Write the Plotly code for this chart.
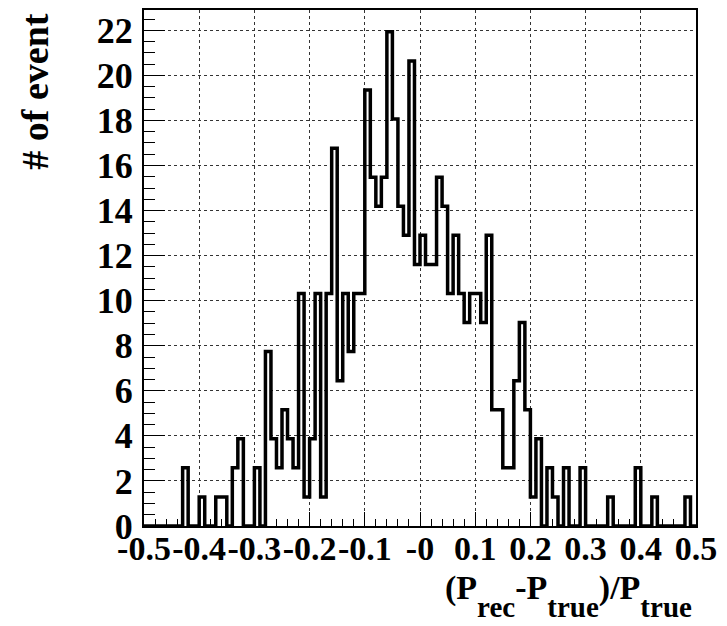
import plotly.graph_objects as go

# ---- data ----
bin_low = -0.5
bin_width = 0.01
event_counts = [
    0, 0, 0, 0, 0, 0, 0, 2.58, 0, 0,            # -0.50 .. -0.41
    1.29, 0, 0, 1.29, 1.29, 0, 2.58, 3.87, 0, 0,  # -0.40 .. -0.31
    2.58, 0, 7.74, 3.87, 2.58, 5.16, 3.87, 2.58, 10.32, 1.29,  # -0.30 .. -0.21
    3.87, 10.32, 1.29, 10.32, 16.77, 6.45, 10.32, 7.74, 10.32, 10.32,  # -0.20 .. -0.11
    19.35, 15.48, 14.19, 15.48, 21.93, 18.06, 14.19, 12.90, 20.64, 11.61,  # -0.10 .. -0.01
    12.90, 11.61, 11.61, 15.48, 14.19, 10.32, 12.90, 10.32, 9.03, 10.32,  # 0.00 .. 0.09
    10.32, 9.03, 12.90, 5.16, 5.16, 2.58, 2.58, 6.45, 9.03, 5.16,  # 0.10 .. 0.19
    1.29, 3.87, 0, 2.58, 1.29, 0, 2.58, 0, 0, 2.58,  # 0.20 .. 0.29
    0, 0, 0, 0, 1.29, 0, 0, 0, 0, 2.58,  # 0.30 .. 0.39
    0, 0, 1.29, 0, 0, 0, 0, 0, 1.29, 0,  # 0.40 .. 0.49
]
x_tick_vals = [-0.5, -0.4, -0.3, -0.2, -0.1, 0.0, 0.1, 0.2, 0.3, 0.4, 0.5]
x_tick_text = ["-0.5", "-0.4", "-0.3", "-0.2", "-0.1", "-0", "0.1", "0.2", "0.3", "0.4", "0.5"]
y_tick_vals = [0, 2, 4, 6, 8, 10, 12, 14, 16, 18, 20, 22]
y_title = "# of event"
SUB = '<sub><span style="font-size:29px;baseline-shift:-11px">{}</span></sub>'
x_title = "(P" + SUB.format("rec") + "-P" + SUB.format("true") + ")/P" + SUB.format("true")

# step outline (ROOT-style histogram envelope)
n_bins = len(event_counts)
edges = [bin_low + i * bin_width for i in range(n_bins + 1)]
step_x = edges
step_y = event_counts + [event_counts[-1]]

FONT = "Liberation Serif"

fig = go.Figure()
fig.add_trace(go.Scatter(
    x=step_x, y=step_y, mode="lines",
    line=dict(shape="hv", color="black", width=3.5),
    showlegend=False, hoverinfo="skip",
))

axis_common = dict(
    showline=True, linecolor="black", linewidth=2, mirror=True,
    showgrid=True, gridcolor="#333333", gridwidth=1, griddash="dot",
    zeroline=False, ticks="inside", tickcolor="black", tickwidth=1,
)

fig.update_xaxes(
    range=[-0.5, 0.5], tickmode="array", tickvals=x_tick_vals, ticktext=x_tick_text,
    ticklen=14, tickangle=0, ticklabelstandoff=-9,
    tickfont=dict(family=FONT, size=34, color="black", weight="bold"),
    minor=dict(dtick=0.02, ticklen=7, ticks="inside", tickcolor="black", showgrid=False),
    **axis_common,
)
fig.update_yaxes(
    range=[0, 22.9], tickmode="array", tickvals=y_tick_vals,
    ticklen=21, ticklabelstandoff=2,
    tickfont=dict(family=FONT, size=36, color="black", weight="bold"),
    minor=dict(dtick=0.5, ticklen=11, ticks="inside", tickcolor="black", showgrid=False),
    **axis_common,
)

fig.add_annotation(
    text=y_title, xref="paper", yref="paper", x=-0.199, y=0.842,
    textangle=-90, showarrow=False, xanchor="center", yanchor="middle",
    font=dict(family=FONT, size=38, color="black", weight="bold"),
)
fig.add_annotation(
    text=x_title, xref="paper", yref="paper", x=0.997, y=-0.079,
    showarrow=False, xanchor="right", yanchor="top",
    font=dict(family=FONT, size=34, color="black", weight="bold"),
)

# page body has an 8px default margin, so the figure is sized to fit the window
fig.update_layout(
    width=719, height=618,
    margin=dict(l=136, r=31, t=0, b=100),
    paper_bgcolor="white", plot_bgcolor="white",
)

fig.write_html("out.html")
